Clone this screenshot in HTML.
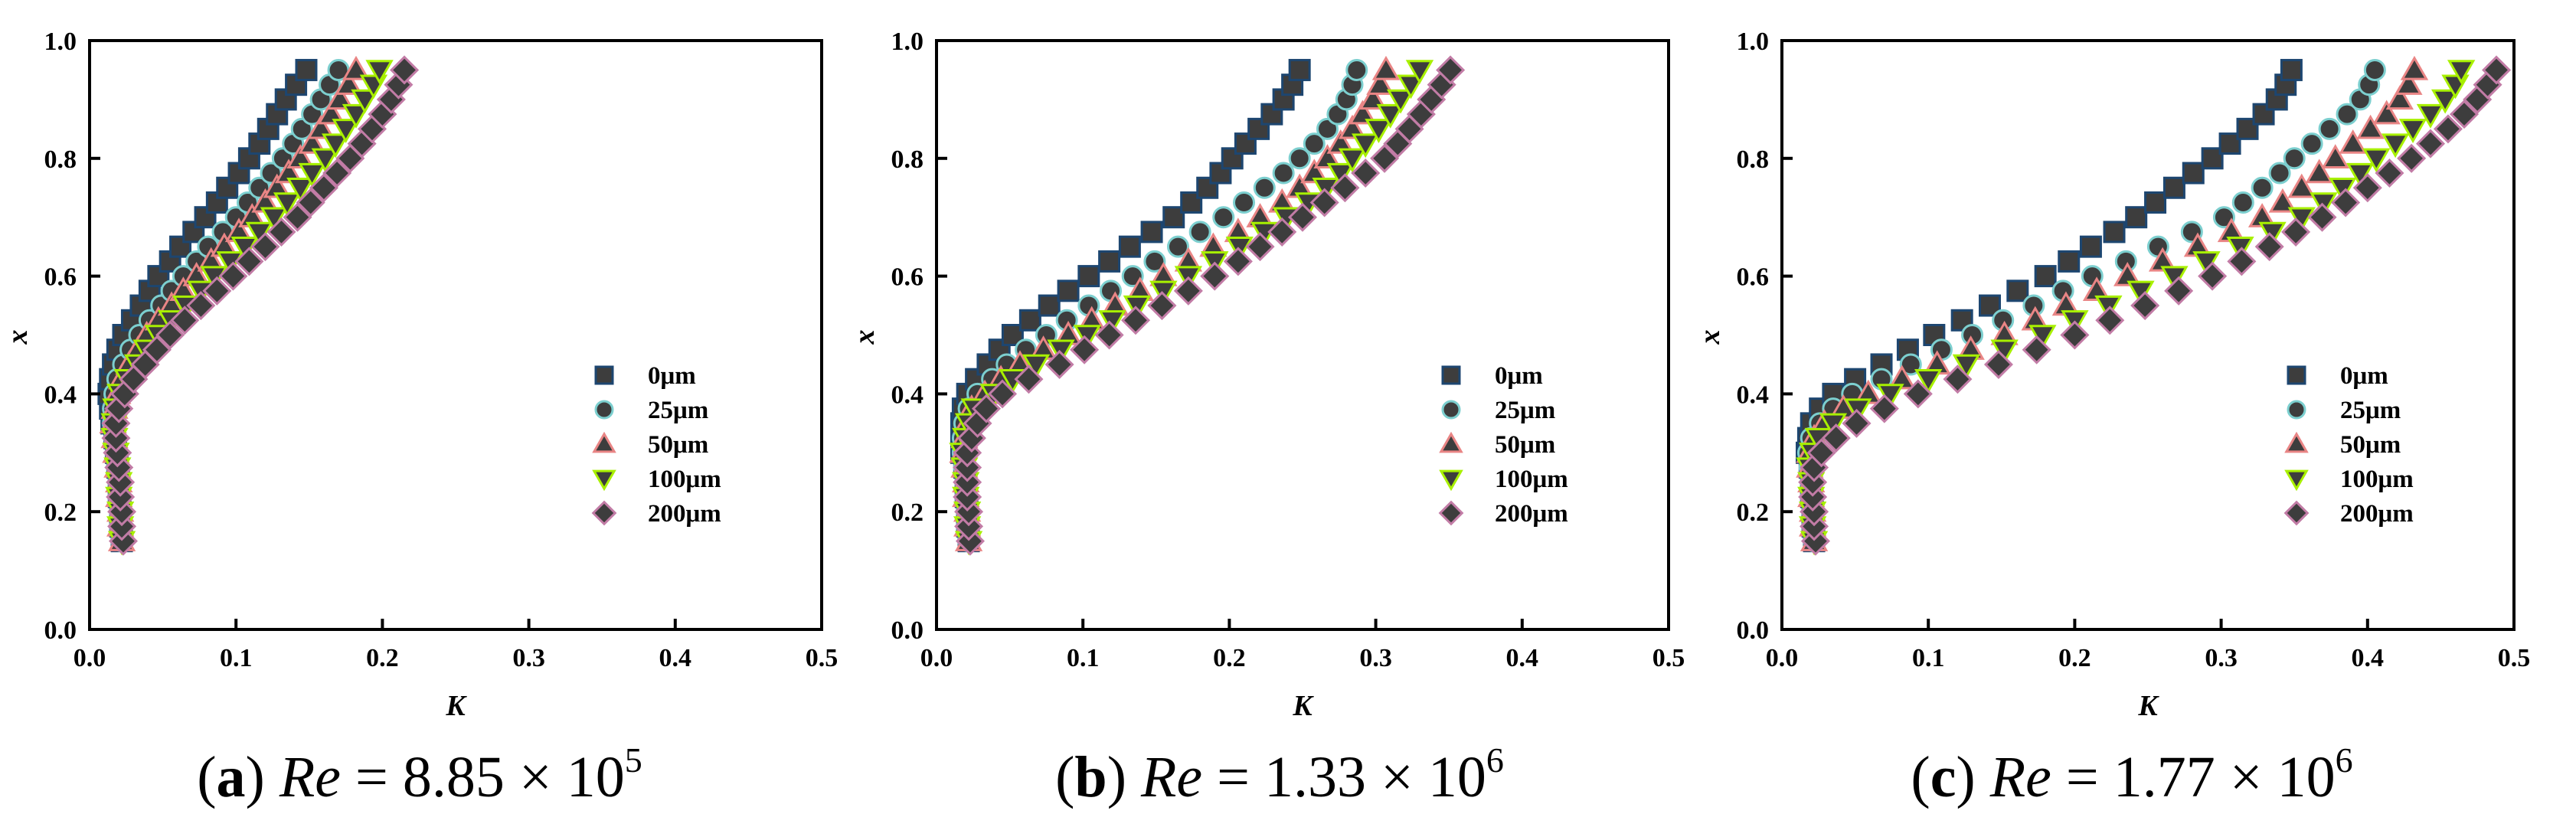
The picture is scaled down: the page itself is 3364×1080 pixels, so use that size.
<!DOCTYPE html>
<html><head><meta charset="utf-8">
<style>
html,body{margin:0;padding:0;background:#fff;}
svg{display:block;}
text{font-family:"Liberation Serif",serif;}
</style></head>
<body>
<svg id="fig" width="3364" height="1080" viewBox="0 0 3364 1080" xmlns="http://www.w3.org/2000/svg"></svg>
<script>
const yVals=[0.15,0.175,0.2,0.225,0.25,0.275,0.3,0.325,0.35,0.375,0.4,0.425,0.45,0.475,0.5,0.525,0.55,0.575,0.6,0.625,0.65,0.675,0.7,0.725,0.75,0.775,0.8,0.825,0.85,0.875,0.9,0.925,0.95];
const seriesNames=["0μm","25μm","50μm","100μm","200μm"];
const xTicks=[0,0.1,0.2,0.3,0.4,0.5];
const xTickLabels=["0.0","0.1","0.2","0.3","0.4","0.5"];
const yTicks=[0,0.2,0.4,0.6,0.8,1.0];
const yTickLabels=["0.0","0.2","0.4","0.6","0.8","1.0"];
const captions=[["a","8.85","5"],["b","1.33","6"],["c","1.77","6"]];

const a0=[.022,.021,.021,.020,.020,.019,.018,.017,.015,.014,.013,.014,.016,.019,.023,.029,.035,.041,.047,.055,.062,.071,.079,.087,.094,.102,.109,.116,.122,.128,.134,.141,.148];
const a25=[.022,.021,.021,.020,.020,.019,.018,.017,.016,.016,.017,.019,.023,.028,.034,.041,.049,.056,.064,.073,.081,.091,.100,.108,.116,.124,.132,.139,.145,.152,.158,.164,.170];
const a50=[.022,.021,.021,.020,.020,.019,.018,.017,.016,.017,.019,.022,.027,.033,.039,.047,.056,.064,.073,.083,.092,.102,.111,.120,.128,.136,.144,.152,.158,.165,.171,.177,.182];
const a100=[.022,.021,.021,.020,.020,.019,.018,.017,.017,.018,.021,.026,.033,.039,.047,.056,.066,.076,.085,.096,.106,.116,.126,.135,.144,.152,.161,.168,.175,.182,.188,.194,.198];
const a200=[.023,.022,.022,.021,.021,.020,.019,.018,.018,.020,.024,.030,.038,.046,.055,.065,.076,.087,.098,.109,.120,.131,.142,.151,.160,.169,.178,.186,.193,.200,.206,.211,.215];

const b0=[.022,.021,.021,.020,.020,.019,.017,.017,.017,.018,.021,.027,.035,.043,.052,.064,.077,.090,.104,.118,.132,.147,.162,.174,.185,.194,.202,.211,.220,.229,.237,.243,.248];
const b25=[.022,.021,.021,.020,.020,.019,.018,.018,.019,.022,.028,.038,.048,.061,.075,.089,.104,.119,.134,.149,.165,.180,.196,.210,.224,.237,.248,.258,.267,.274,.280,.284,.287];
const b50=[.022,.021,.021,.020,.020,.019,.018,.019,.021,.024,.033,.044,.057,.073,.090,.106,.122,.139,.155,.172,.189,.206,.221,.236,.248,.258,.267,.276,.284,.291,.298,.303,.307];
const b100=[.022,.021,.021,.020,.020,.019,.018,.020,.022,.026,.039,.052,.068,.085,.103,.120,.137,.155,.172,.190,.207,.224,.239,.254,.266,.276,.284,.293,.302,.310,.317,.324,.330];
const b200=[.023,.022,.022,.021,.021,.021,.021,.024,.028,.034,.045,.063,.084,.101,.118,.136,.154,.172,.190,.206,.221,.236,.250,.265,.279,.293,.306,.315,.323,.331,.338,.345,.351];

const c0=[.022,.021,.021,.020,.020,.019,.017,.018,.020,.026,.035,.050,.068,.086,.104,.123,.142,.161,.180,.196,.211,.227,.242,.255,.268,.281,.294,.306,.318,.329,.338,.344,.348];
const c25=[.022,.021,.021,.020,.020,.019,.018,.020,.026,.035,.048,.068,.088,.109,.130,.151,.172,.192,.212,.235,.257,.280,.302,.315,.328,.340,.350,.362,.374,.386,.395,.401,.405];
const c50=[.022,.021,.021,.020,.020,.019,.019,.022,.029,.042,.059,.082,.106,.129,.152,.173,.194,.215,.236,.260,.284,.307,.328,.342,.355,.367,.378,.390,.402,.413,.422,.428,.432];
const c100=[.022,.021,.021,.020,.020,.019,.021,.025,.035,.052,.074,.100,.126,.152,.178,.200,.223,.245,.268,.290,.313,.335,.355,.370,.383,.395,.406,.419,.431,.443,.453,.460,.464];
const c200=[.023,.022,.022,.021,.021,.022,.027,.037,.051,.070,.093,.120,.148,.174,.200,.224,.248,.271,.294,.314,.333,.351,.369,.385,.400,.415,.430,.443,.455,.466,.475,.482,.488];

const panelData=[[a0,a25,a50,a100,a200],[b0,b25,b50,b100,b200],[c0,c25,c50,c100,c200]];

const NS="http://www.w3.org/2000/svg";
const svg=document.getElementById('fig');
const LEFTS=[117,1223,2327], W=956, TOP=53, BOT=822, XMAX=0.5;
const CAPX=[548,1671,2784];
const EDGE=["#1d4670","#7ccfcf","#e98585","#a8f000","#c27ca6"];
const FILL="#3d3d3d";
const SHAPES=["square","circle","up","down","diamond"];
function mk(tag,attrs,parent){const e=document.createElementNS(NS,tag);for(const k in attrs)e.setAttribute(k,attrs[k]);(parent||svg).appendChild(e);return e;}
function marker(shape,cx,cy,s,edge,g){
  let e;
  if(shape==="square") e=mk('rect',{x:cx-s/2,y:cy-s/2,width:s,height:s},g);
  else if(shape==="circle") e=mk('circle',{cx:cx,cy:cy,r:s/2},g);
  else if(shape==="up") e=mk('polygon',{points:`${cx},${cy-s*0.6} ${cx+s*0.6},${cy+s*0.45} ${cx-s*0.6},${cy+s*0.45}`},g);
  else if(shape==="down") e=mk('polygon',{points:`${cx},${cy+s*0.6} ${cx+s*0.6},${cy-s*0.45} ${cx-s*0.6},${cy-s*0.45}`},g);
  else e=mk('polygon',{points:`${cx},${cy-s*0.65} ${cx+s*0.65},${cy} ${cx},${cy+s*0.65} ${cx-s*0.65},${cy}`},g);
  e.setAttribute('fill',FILL);e.setAttribute('stroke',edge);e.setAttribute('stroke-width','3');
  return e;
}
panelData.forEach((series,p)=>{
  const L=LEFTS[p];
  const sx=k=>L+k/XMAX*W;
  const sy=v=>BOT-v*(BOT-TOP);
  const g=mk('g',{});
  
  
  series.forEach((arr,si)=>{
    const sg=mk('g',{},g);
    
    
    arr.forEach((k,i)=>{
      const m=marker(SHAPES[si],sx(k),sy(yVals[i]),26,EDGE[si],sg);
      
      
    });
  });
  const fr=mk('rect',{x:L,y:TOP,width:W,height:BOT-TOP,fill:'none',stroke:'#000','stroke-width':4},g);
  
  
  xTicks.forEach((t,i)=>{
    const x=sx(t);
    if(i>0&&i<xTicks.length-1) mk('line',{x1:x,y1:BOT,x2:x,y2:BOT-14,stroke:'#000','stroke-width':4},g);
    const tx=mk('text',{x:x,y:870,'text-anchor':'middle','font-size':34,'font-weight':'bold'},g);
    tx.textContent=xTickLabels[i];
    
    
  });
  yTicks.forEach((t,i)=>{
    const y=sy(t);
    if(i>0&&i<yTicks.length-1) mk('line',{x1:L,y1:y,x2:L+14,y2:y,stroke:'#000','stroke-width':4},g);
    const tx=mk('text',{x:L-17,y:y+12,'text-anchor':'end','font-size':34,'font-weight':'bold'},g);
    tx.textContent=yTickLabels[i];
    
    
  });
  const xl=mk('text',{x:L+W/2,y:934,'text-anchor':'middle','font-size':38,'font-weight':'bold','font-style':'italic'},g);
  xl.textContent='K';
  
  
  const yl=mk('text',{x:0,y:0,'text-anchor':'middle','font-size':38,'font-weight':'bold','font-style':'italic',transform:`translate(${L-82},440) rotate(-90)`},g);
  yl.textContent='x';
  
  
  const lg=mk('g',{},g);
  
  
  seriesNames.forEach((n,si)=>{
    const cy=490+si*45;
    const m=marker(SHAPES[si],L+672,cy,22,EDGE[si],lg);
    
    
    const t=mk('text',{x:L+729,y:cy+11,'font-size':33,'font-weight':'bold'},lg);
    t.textContent=n;
    
    
  });
  const cap=mk('text',{x:CAPX[p],y:1040,'text-anchor':'middle','font-size':76},g);
  
  
  const c=captions[p];
  cap.innerHTML=`(<tspan font-weight="bold">${c[0]}</tspan>) <tspan font-style="italic">Re</tspan> = ${c[1]} × 10<tspan font-size="46" dy="-32">${c[2]}</tspan>`;
});
</script>
</body></html>
